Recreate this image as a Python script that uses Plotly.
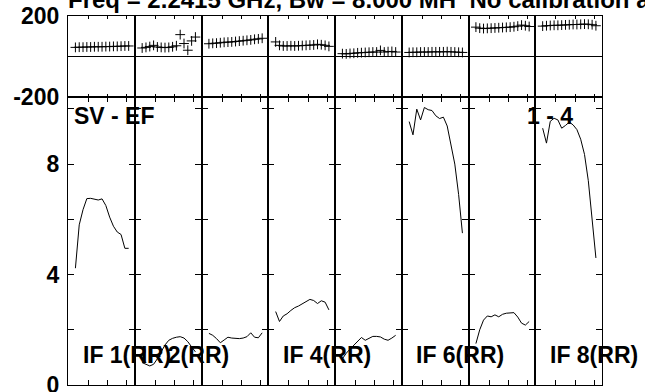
import plotly.graph_objects as go
from plotly.subplots import make_subplots

# Channel numbers sampled in every IF (averaged pairs of channels)
channels = [3, 5, 7, 9, 11, 13, 15, 17, 19, 21, 23, 25, 27, 29, 31]
if_names = ["IF 1", "IF 2", "IF 3", "IF 4", "IF 5", "IF 6", "IF 7", "IF 8"]
labelled_ifs = ["IF 1", "IF 2", "IF 4", "IF 6", "IF 8"]

# Phase (degrees) per IF
phase_if1 = [45, 46, 46, 47, 47, 48, 48, 48, 49, 49, 50, 50, 51, 52, 52]
phase_if2 = [42, 45, 49, 55, 47, 45, 44, 45, 48, 53, 108, 64, 31, 77, 96]
phase_if3 = [63, 65, 66, 68, 70, 71, 72, 74, 76, 78, 80, 82, 85, 87, 90]
phase_if4 = [72, 55, 52, 52, 53, 52, 53, 54, 55, 56, 57, 60, 58, 55, 50]
phase_if5 = [14, 13, 15, 16, 18, 19, 20, 21, 22, 22, 30, 22, 24, 25, 22]
phase_if6 = [20, 21, 21, 22, 22, 22, 23, 23, 23, 23, 24, 23, 22, 21, 20]
phase_if7 = [145, 140, 138, 139, 140, 141, 142, 143, 144, 145, 147, 150, 155, 152, 148]
phase_if8 = [150, 152, 153, 154, 154, 155, 156, 157, 158, 158, 159, 160, 159, 157, 152]

# Amplitude per IF
amp_if1 = [4.23, 5.8, 6.35, 6.75, 6.76, 6.72, 6.70, 6.74, 6.5, 6.08, 5.75, 5.54, 5.45, 4.95, 4.95]
amp_if2 = [0.81, 0.74, 0.69, 0.75, 0.95, 1.2, 1.45, 1.62, 1.69, 1.73, 1.75, 1.70, 1.57, 1.38, 1.2]
amp_if3 = [1.87, 1.80, 1.68, 1.53, 1.63, 1.73, 1.70, 1.68, 1.68, 1.70, 1.75, 1.89, 1.73, 1.71, 1.89]
amp_if4 = [2.66, 2.3, 2.5, 2.58, 2.70, 2.8, 2.86, 2.93, 3.0, 3.1, 3.06, 2.95, 3.05, 3.0, 2.72]
amp_if5 = [0.95, 1.15, 1.3, 1.45, 1.6, 1.72, 1.62, 1.70, 1.76, 1.76, 1.74, 1.66, 1.62, 1.70, 1.80]
amp_if6 = [9.54, 9.06, 9.99, 9.6, 10.05, 9.97, 9.94, 9.75, 9.65, 9.7, 9.38, 8.7, 8.0, 6.9, 5.5]
amp_if7 = [1.5, 2.0, 2.35, 2.5, 2.47, 2.54, 2.47, 2.56, 2.6, 2.61, 2.62, 2.46, 2.24, 2.17, 2.3]
amp_if8 = [9.3, 8.76, 9.55, 9.66, 9.6, 9.3, 9.4, 9.52, 9.42, 9.25, 8.9, 8.35, 7.4, 6.0, 4.6]

phases = [phase_if1, phase_if2, phase_if3, phase_if4, phase_if5, phase_if6, phase_if7, phase_if8]
amps = [amp_if1, amp_if2, amp_if3, amp_if4, amp_if5, amp_if6, amp_if7, amp_if8]

phase_ticks = [-200, 200]
phase_ticktext = ["-200", "200"]
amp_ticks = [0, 2, 4, 6, 8, 10]
amp_ticktext = ["0", "", "4", "", "8", ""]
chan_ticks = [10, 20, 30]

title_text = "Freq = 2.2415 GHz, Bw = 8.000 MH  No calibration applied"
baseline_text = "SV - EF"
page_text = "1 - 4"

FONT = "Liberation Sans, Arial, Helvetica, sans-serif"
bold = dict(family=FONT, size=23, color="black", weight="bold")
title_font = dict(bold, size=24)

W, H = 645, 392
ML, MR, MT, MB = 68, 43, 16, 7
PW, PH = W - ML - MR, H - MT - MB
phase_h = 81

fig = make_subplots(rows=2, cols=8, horizontal_spacing=0, vertical_spacing=0,
                    row_heights=[phase_h / PH, 1 - phase_h / PH])

for i in range(8):
    col = i + 1
    fig.add_trace(go.Scatter(x=channels, y=phases[i], mode="markers",
                             marker=dict(symbol="cross-thin", size=7,
                                         line=dict(color="black", width=1)),
                             showlegend=False, name=if_names[i]),
                  row=1, col=col)
    fig.add_trace(go.Scatter(x=channels, y=amps[i], mode="lines",
                             line=dict(color="black", width=1),
                             showlegend=False, name=if_names[i]),
                  row=2, col=col)

    common_x = dict(range=[-0.9, 34.2], tickvals=chan_ticks, ticks="inside",
                    showline=True, mirror="ticks", linecolor="black", linewidth=1.3,
                    tickcolor="black", tickwidth=1, showticklabels=False,
                    showgrid=False, zeroline=False, automargin=False)
    fig.update_xaxes(row=1, col=col, ticklen=3, **common_x)
    fig.update_xaxes(row=2, col=col, ticklen=5, **common_x)

    common_y = dict(showline=True, linecolor="black", linewidth=1.3, showgrid=False,
                    showticklabels=(col == 1), tickfont=bold, ticklabelstandoff=3,
                    ticklabeloverflow="allow", automargin=False)
    fig.update_yaxes(row=1, col=col, range=[-200, 200], tickvals=phase_ticks,
                     ticktext=phase_ticktext, ticks="", mirror=True,
                     zeroline=True, zerolinecolor="black", zerolinewidth=1.3,
                     **common_y)
    fig.update_yaxes(row=2, col=col, range=[0, 10.43], tickvals=amp_ticks,
                     ticktext=amp_ticktext, ticks="inside", ticklen=6,
                     tickcolor="black", tickwidth=1.3, mirror="ticks",
                     zeroline=False, **common_y)


def px_x(px):
    return (px - ML) / PW


def px_y(py):
    return (H - MB - py) / PH


annotations = [
    dict(text=title_text, x=px_x(66), y=px_y(-1), xanchor="left", yanchor="middle",
         font=title_font),
    dict(text=baseline_text, x=px_x(72), y=px_y(116), xanchor="left", yanchor="middle"),
    dict(text=page_text, x=px_x(525), y=px_y(116), xanchor="left", yanchor="middle"),
]
label_left = {"IF 1": 81, "IF 2": 139, "IF 4": 281, "IF 6": 414, "IF 8": 548}
for name in labelled_ifs:
    annotations.append(dict(text=name + "(RR)", x=px_x(label_left[name]), y=px_y(355),
                            xanchor="left", yanchor="middle"))
for a in annotations:
    a.setdefault("font", bold)
    a.update(xref="paper", yref="paper", showarrow=False)

fig.update_layout(width=W, height=H, margin=dict(l=ML, r=MR, t=MT, b=MB, autoexpand=False),
                  paper_bgcolor="white", plot_bgcolor="white",
                  annotations=annotations, showlegend=False)

fig.write_html("out.html")
